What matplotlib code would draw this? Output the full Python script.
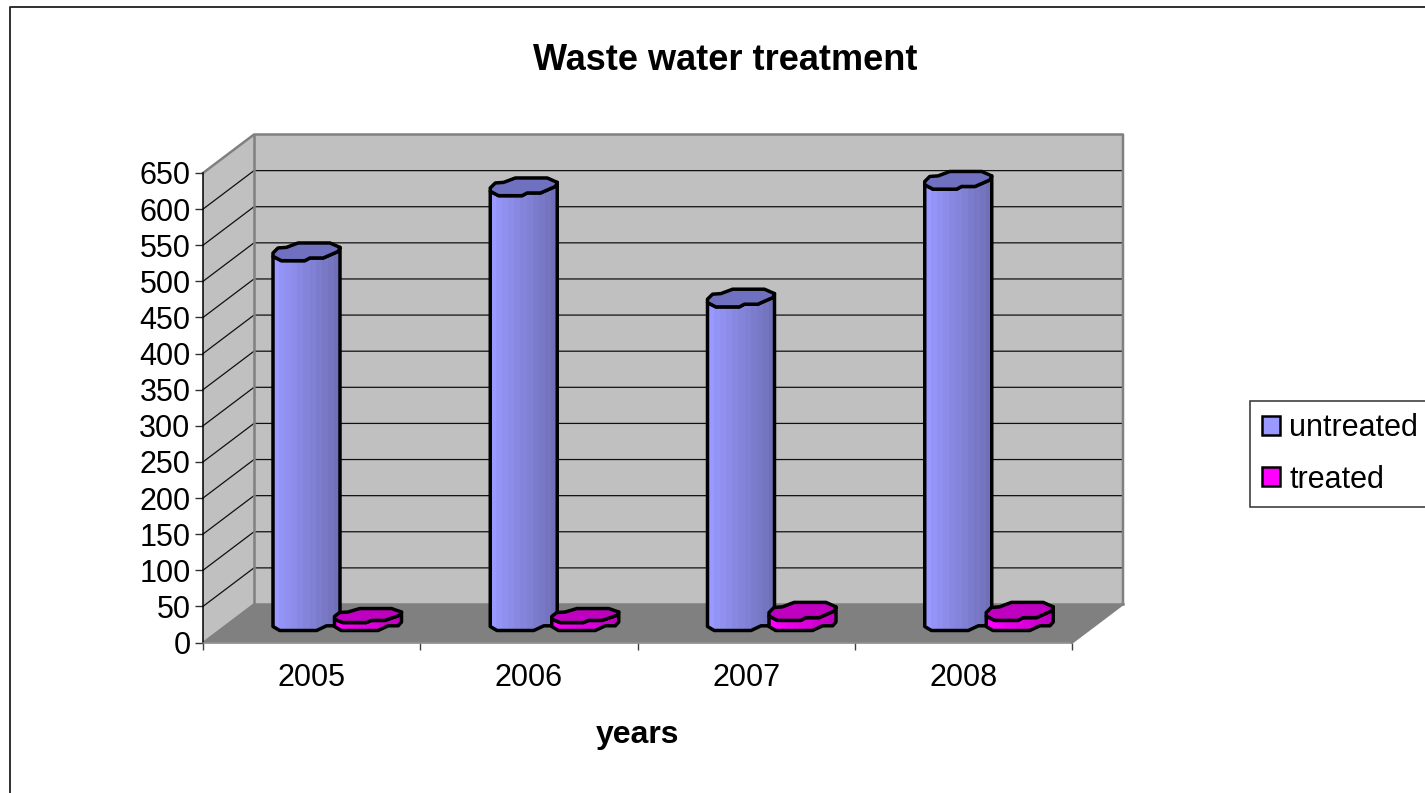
import numpy as np
import matplotlib
matplotlib.use('Agg')
import matplotlib.pyplot as plt
from matplotlib.patches import Patch, Polygon

plt.rcParams['font.family'] = ['Liberation Sans', 'DejaVu Sans']

years = ['2005', '2006', '2007', '2008']
untreated = [512, 602, 448, 611]
treated = [11, 11, 14, 14]
y_ticks = list(range(0, 651, 50))

W, H = 1425, 793
fig = plt.figure(figsize=(W / 100, H / 100), dpi=100)
# front plane of the fake 3d box, in pixels of the reference
ax = fig.add_axes([203 / W, 1 - 642.5 / H, 869 / W, 469.5 / H])
ax.set_xlim(0, 4)
ax.set_ylim(0, 650)
ax.patch.set_visible(False)

# pixel to data sizes
px_x = 4 / 869
px_y = 650 / 469.5
depth_x = 51 * px_x
depth_y = 38.5 * px_y

# outer frame, only top and left are inside the picture
fig.add_artist(plt.Line2D([9.7 / W, 9.7 / W, 1], [0, 1 - 7 / H, 1 - 7 / H], color='#202020', lw=1.3,
                          transform=fig.transFigure))

# walls and floor
ax.fill([0, depth_x, depth_x, 0], [0, depth_y, 650 + depth_y, 650], fc='#c0c0c0', ec='none', clip_on=False, zorder=1)
ax.fill([depth_x, 4 + depth_x, 4 + depth_x, depth_x], [depth_y, depth_y, 650 + depth_y, 650 + depth_y],
        fc='#c0c0c0', ec='none', clip_on=False, zorder=1)
ax.fill([0, depth_x, 4 + depth_x, 4], [0, depth_y, depth_y, 0], fc='#808080', ec='none', clip_on=False, zorder=1)

# gridlines
for v in y_ticks[1:-1]:
    ax.plot([0, depth_x, 4 + depth_x], [v, v + depth_y, v + depth_y], color='#101010', lw=0.9, clip_on=False, zorder=2)

# gray outline of the walls
ax.plot([0, depth_x, 4 + depth_x, 4 + depth_x, 4], [650, 650 + depth_y, 650 + depth_y, depth_y, 0],
        color='#808080', lw=1.8, clip_on=False, zorder=2)
ax.plot([depth_x, depth_x, 4 + depth_x], [650 + depth_y, depth_y, depth_y], color='#808080', lw=1.8,
        clip_on=False, zorder=2)
ax.plot([0, depth_x], [0, depth_y], color='#808080', lw=1.2, clip_on=False, zorder=2)

# outline of the rough cylinders, u across the bar, v in pixels above the front edge
top_u = [0, .075, .2, .375, .85, 1, .975, .75, .55, .475, .125, 0]
top_v = [7.7, 12.7, 13.3, 17.7, 17.7, 13.3, 9.3, 2.7, 2.7, 0, 0, 4.3]
low_u = [0, .1, .65, .8, .95, 1]
low_v = [4, 0, 0, 4.7, 4.7, 8.5]


def draw_bar(x0, value, width, light, dark, top_color, cap, z):
    base = 12 * px_y
    tu = np.array(top_u)
    tv = np.array(top_v) * cap / 17.7
    top_x = x0 + tu * width
    top_y = base + value + tv * px_y
    low_x = x0 + np.array(low_u) * width
    low_y = base + np.array(low_v) * px_y
    # body: bottom outline, then up the right side and back over the front of the top
    body_x = np.concatenate([low_x, [x0 + width], top_x[6:]])
    body_y = np.concatenate([low_y, [base + value + 13.3 * cap / 17.7 * px_y], top_y[6:]])
    body = Polygon(np.column_stack([body_x, body_y]), closed=True, fc='none', ec='black', lw=2.5,
                   clip_on=False, zorder=z + 0.2, joinstyle='round')
    grad = np.linspace(0, 1, 11).reshape(1, -1, 1)
    img = np.array(light) * (1 - grad) + np.array(dark) * grad
    im = ax.imshow(img, extent=[x0, x0 + width, base, base + value + 20 * px_y], aspect='auto',
                   interpolation='nearest', zorder=z, clip_on=True)
    ax.add_patch(body)
    im.set_clip_path(body)
    ax.add_patch(Polygon(np.column_stack([top_x, top_y]), closed=True, fc=top_color, ec='black', lw=2.5,
                         clip_on=False, zorder=z + 0.3, joinstyle='round'))


bar_w = 67 * px_x
caps = [14, 14, 18, 18]
for i in range(len(years)):
    x0 = i + 70 * px_x
    draw_bar(x0, untreated[i], bar_w, (0x99 / 255, 0x99 / 255, 1), (0x70 / 255, 0x70 / 255, 0xb8 / 255),
             '#7070c0', 17.7, 3 + i * 2)
    draw_bar(x0 + 61.5 * px_x, treated[i], bar_w, (1, 0, 1), (0xc0 / 255, 0, 0xc0 / 255),
             '#c000c0', caps[i], 4 + i * 2)

ax.set_xlim(0, 4)
ax.set_ylim(0, 650)

ax.set_yticks(y_ticks)
ax.set_xticks(range(5))
ax.set_xticklabels([])
ax.set_xticks([0.5, 1.5, 2.5, 3.5], years, minor=True)
ax.tick_params(axis='x', which='major', length=5, width=1, color='#404040')
ax.tick_params(axis='x', which='minor', length=0, labelsize=22, pad=15)
ax.tick_params(axis='y', length=6, width=1, color='#303030', labelsize=22, pad=3)
for s in ['top', 'right']:
    ax.spines[s].set_visible(False)
for s in ['left', 'bottom']:
    ax.spines[s].set_linewidth(1.1)
    ax.spines[s].set_zorder(2.5)
ax.spines['bottom'].set_color('#808080')

fig.text(725 / W, 1 - 60 / H, 'Waste water treatment', fontsize=26, fontweight='bold', ha='center', va='center')
fig.text(638 / W, 1 - 735 / H, 'years', fontsize=23, fontweight='bold', ha='center', va='center')

handles = [Patch(fc='#9999ff', ec='black', lw=1.8), Patch(fc='#ff00ff', ec='black', lw=1.8)]
leg = fig.legend(handles, ['untreated', 'treated'], loc='upper left', bbox_to_anchor=(1250 / W, 1 - 401 / H),
                 fontsize=22, frameon=True, fancybox=False, edgecolor='#303030', framealpha=1,
                 handlelength=0.58, handleheight=0.58, handletextpad=0.3, labelspacing=0.7,
                 borderpad=0.4, borderaxespad=0)
leg.get_frame().set_linewidth(1.1)

fig.savefig('out.png', dpi=100)
